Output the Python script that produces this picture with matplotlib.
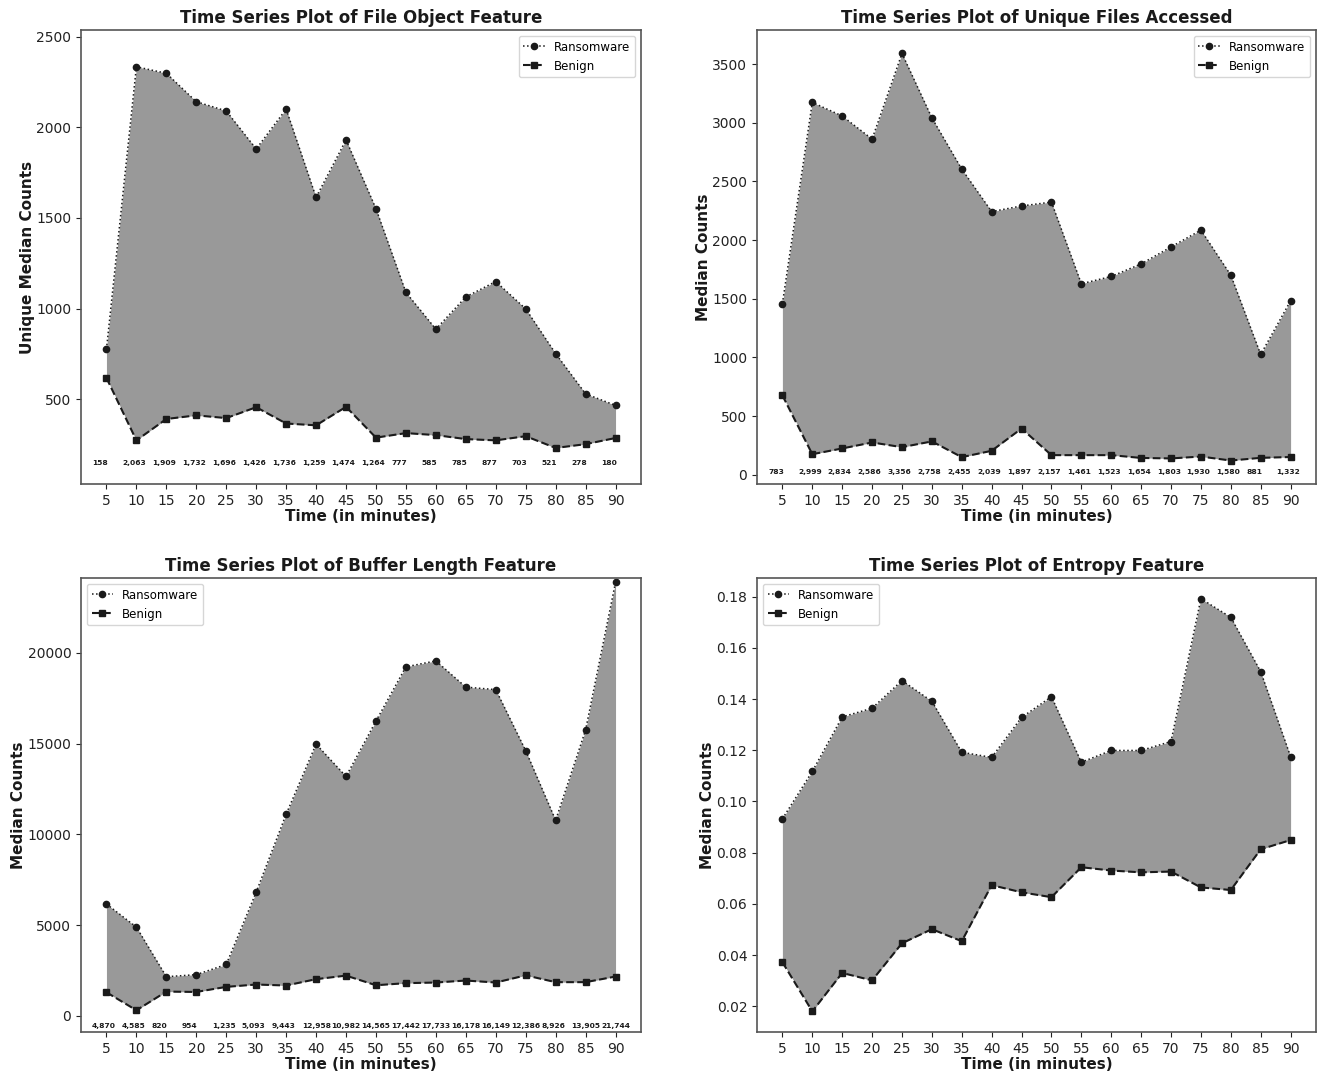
import matplotlib
matplotlib.use("Agg")
import matplotlib.pyplot as plt

time_min = [5, 10, 15, 20, 25, 30, 35, 40, 45, 50, 55, 60, 65, 70, 75, 80, 85, 90]

# File Object Feature
file_obj_benign = [617, 272, 390, 410, 395, 455, 365, 355, 457, 287, 312, 301, 279, 272, 295, 230, 251, 285]
file_obj_diff = [158, 2063, 1909, 1732, 1696, 1426, 1736, 1259, 1474, 1264, 777, 585, 785, 877, 703, 521, 278, 180]

# Unique Files Accessed
files_benign = [676, 175, 224, 275, 235, 284, 150, 204, 394, 167, 167, 167, 143, 139, 155, 121, 144, 151]
files_diff = [783, 2999, 2834, 2586, 3356, 2758, 2455, 2039, 1897, 2157, 1461, 1523, 1654, 1803, 1930, 1580, 881, 1332]

# Buffer Length Feature
buffer_benign = [1290, 300, 1330, 1310, 1590, 1720, 1665, 2015, 2210, 1680, 1795, 1830, 1940, 1830, 2225, 1850, 1850, 2160]
buffer_diff = [4870, 4585, 820, 954, 1235, 5093, 9443, 12958, 10982, 14565, 17442, 17733, 16178, 16149, 12386, 8926, 13905, 21744]

# Entropy Feature
entropy_ransom = [0.0932, 0.1117, 0.1330, 0.1364, 0.1472, 0.1391, 0.1192, 0.1172, 0.1328, 0.1409,
                  0.1153, 0.1199, 0.1199, 0.1234, 0.1792, 0.1719, 0.1507, 0.1175]
entropy_benign = [0.0372, 0.0180, 0.0330, 0.0301, 0.0446, 0.0501, 0.0454, 0.0673, 0.0645, 0.0626,
                  0.0743, 0.0730, 0.0723, 0.0726, 0.0664, 0.0654, 0.0813, 0.0849]

titles = ["Time Series Plot of File Object Feature", "Time Series Plot of Unique Files Accessed",
          "Time Series Plot of Buffer Length Feature", "Time Series Plot of Entropy Feature"]
ylabels = ["Unique Median Counts", "Median Counts", "Median Counts", "Median Counts"]
xlabel = "Time (in minutes)"

W, H = 1318, 1071
fig = plt.figure(figsize=(W / 100, H / 100), dpi=100)

def box(l, r, t, b):
    return [l / W, 1 - b / H, (r - l) / W, (b - t) / H]

rects = [box(81, 641, 30, 484), box(757, 1316, 30, 484),
         box(81, 641, 578, 1032), box(757, 1316, 578, 1032)]

panels = [
    (file_obj_benign, file_obj_diff, (31, 2538), 145, "upper right"),
    (files_benign, files_diff, (-79, 3791), 26, "upper right"),
    (buffer_benign, buffer_diff, (-898, 24134), -561, "upper left"),
    (entropy_benign, None, None, None, "upper left"),
]

dark = "#1a1a1a"
for i, (benign, diff, ylim, ann_y, loc) in enumerate(panels):
    ax = fig.add_axes(rects[i])
    if diff is not None:
        ransom = [b + d for b, d in zip(benign, diff)]
    else:
        ransom = entropy_ransom
    ax.fill_between(time_min, benign, ransom, color="#999999", linewidth=0)
    ax.plot(time_min, ransom, linestyle=":", marker="o", color=dark, markersize=4.5, linewidth=1.1,
            label="Ransomware")
    ax.plot(time_min, benign, linestyle="--", marker="s", color=dark, markersize=4.5, linewidth=1.5,
            label="Benign")
    if diff is not None:
        for x, d in zip(time_min, diff):
            ax.text(x - 2.4, ann_y, f"{d:,}", ha="left", va="center", fontsize=5.4,
                    fontweight="bold", color=dark)
        ax.set_ylim(*ylim)
    ax.set_xticks(time_min)
    ax.set_xlim(0.75, 94.25)
    ax.tick_params(labelsize=10, colors="#222222")
    ax.set_title(titles[i], fontsize=12, fontweight="bold", color=dark, pad=5)
    ax.set_xlabel(xlabel, fontsize=11, fontweight="bold", color=dark, labelpad=1)
    ax.set_ylabel(ylabels[i], fontsize=11, fontweight="bold", color=dark, labelpad=1)
    for s in ax.spines.values():
        s.set_color("#555555")
        s.set_linewidth(1.2)
    ax.legend(loc=loc, fontsize=8.5, handlelength=1.8)

fig.savefig("out.png", dpi=100)
